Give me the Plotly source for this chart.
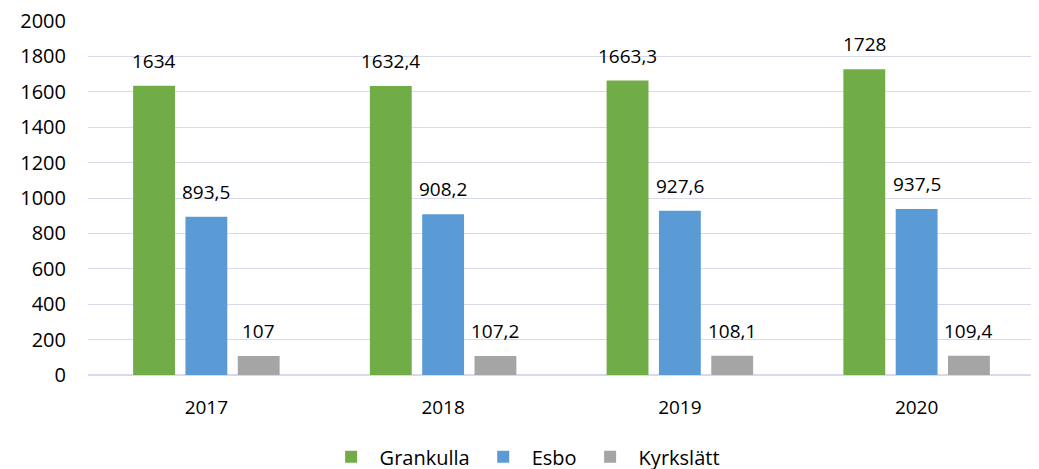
import plotly.graph_objects as go

years = ["2017", "2018", "2019", "2020"]
series_names = ["Grankulla", "Esbo", "Kyrkslätt"]
grankulla = [1634, 1632.4, 1663.3, 1728]
esbo = [893.5, 908.2, 927.6, 937.5]
kyrkslatt = [107, 107.2, 108.1, 109.4]
colors = ["#70AD47", "#5B9BD5", "#A5A5A5"]
y_ticks = [0, 200, 400, 600, 800, 1000, 1200, 1400, 1600, 1800, 2000]

def fmt(v):
    s = ("%g" % v)
    return s.replace(".", ",")

FONT = "Open Sans, Calibri, sans-serif"
FS = 19
fig = go.Figure()
all_series = [grankulla, esbo, kyrkslatt]
for name, vals, col in zip(series_names, all_series, colors):
    fig.add_trace(go.Bar(name=name, x=years, y=vals, marker=dict(color=col, line=dict(width=0))))

W, H = 1039, 469
ml, mr, mt, mb = 80, 12, 13, 102
plot_w = W - ml - mr
bargap = 0.337
cat_w = plot_w / len(years)
slot = cat_w * (1 - bargap) / 3
for i, vals in enumerate(all_series):
    for j, v in enumerate(vals):
        fig.add_annotation(x=j, y=v, xref="x", yref="y", text=fmt(v), showarrow=False,
                           xshift=(i - 1) * slot, yshift=25, yanchor="middle",
                           font=dict(family=FONT, size=FS, color="#000000"))

fig.update_layout(
    width=W, height=H,
    margin=dict(l=ml, r=mr, t=mt, b=mb, autoexpand=False),
    barmode="group", bargap=bargap, bargroupgap=0.2,
    plot_bgcolor="white", paper_bgcolor="white",
    font=dict(family=FONT, size=FS, color="#000000"),
    showlegend=True,
    legend=dict(orientation="h", x=0.46, xanchor="center", y=-0.176, yanchor="top",
                font=dict(size=FS + 1), itemwidth=47, traceorder="normal"),
)
fig.update_yaxes(range=[0, 2000], tickvals=y_ticks, showgrid=True, gridcolor="#D9D9EE",
                 gridwidth=1, zeroline=True, zerolinecolor="#D9D9EE", showline=False,
                 automargin=False, ticklabeloverflow="allow", ticks="",
                 ticklabelstandoff=21, tickfont=dict(size=FS + 1))
fig.update_xaxes(type="category", range=[-0.5, len(years) - 0.5], showgrid=False,
                 automargin=False, showline=False, ticks="", ticklabelstandoff=19,
                 tickfont=dict(size=FS))

fig.write_html("out.html")
